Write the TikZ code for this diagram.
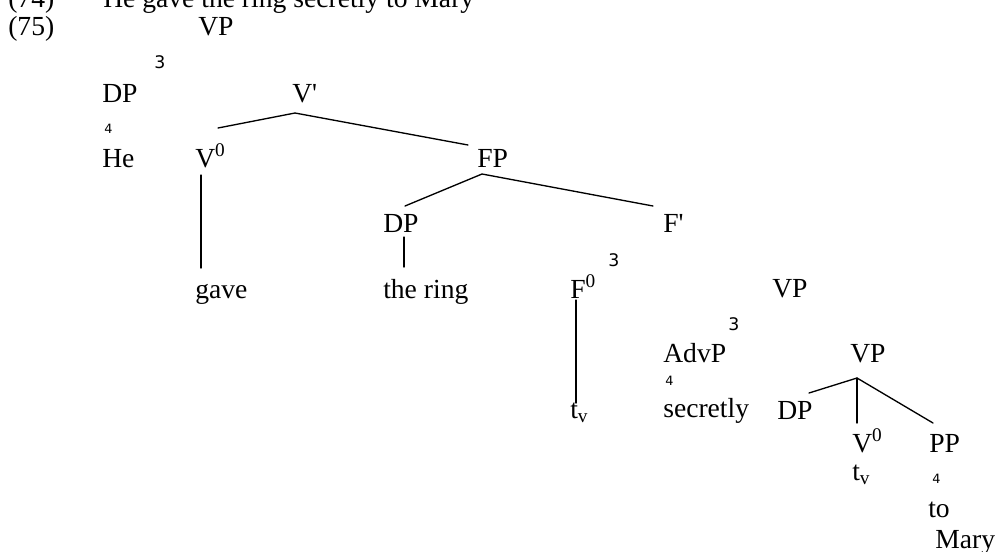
\documentclass[tikz,border=0pt]{standalone}
\usepackage{fontspec}
\setmainfont{Liberation Serif}
\newfontfamily\glyphfont{DejaVu Sans}
\begin{document}
\begin{tikzpicture}[x=0.75pt,y=-0.75pt,
  lbl/.style={anchor=base west,inner sep=0pt,font=\fontsize{20.7}{24}\selectfont},
  bigmark/.style={anchor=base west,inner sep=0pt,font=\glyphfont\fontsize{13}{15}\selectfont},
  smallmark/.style={anchor=base west,inner sep=0pt,font=\glyphfont\fontsize{9.6}{11}\selectfont},
  branch/.style={line width=1pt,line cap=round}]
\useasboundingbox (0,0) rectangle (998,551);
\fill[white] (0,0) rectangle (998,551);

% example lines
\node[lbl] (ex74) at (8,7) {(74)};
\node[lbl] (sent) at (103,7) {He gave the ring secretly to Mary};
\node[lbl] (ex75) at (8,35) {(75)};

% upper part of the tree
\node[lbl] (vp1) at (198,35) {VP};
\node[bigmark] (m3a) at (154,68) {3};
\node[lbl] (dp1) at (102,102) {DP};
\node[lbl] (vbar) at (292,102) {V\textquotesingle};
\node[smallmark] (m4a) at (104,133) {4};
\node[lbl] (he) at (102,167) {He};
\node[lbl] (v0a) at (195,167) {V\textsuperscript{0}};
\node[lbl] (fp) at (477,167) {FP};
\node[lbl] (dp2) at (383,232) {DP};
\node[lbl] (fbar) at (663,232) {F\textquotesingle};
\node[bigmark] (m3b) at (608,266) {3};
\node[lbl] (gave) at (195,298) {gave};
\node[lbl] (ring) at (383,298) {the ring};
\node[lbl] (f0) at (570,298) {F\textsuperscript{0}};

% lower part of the tree
\node[lbl] (vp2) at (772,297) {VP};
\node[bigmark] (m3c) at (728,330) {3};
\node[lbl] (advp) at (663,362) {AdvP};
\node[lbl] (vp3) at (850,362) {VP};
\node[smallmark] (m4b) at (665,385) {4};
\node[lbl] (secretly) at (663,417) {secretly};
\node[lbl] (tv1) at (570,418) {t\textsubscript{v}};
\node[lbl] (dp3) at (777,419) {DP};
\node[lbl] (v0b) at (852,452) {V\textsuperscript{0}};
\node[lbl] (pp) at (929,452) {PP};
\node[lbl] (tv2) at (852,480) {t\textsubscript{v}};
\node[smallmark] (m4c) at (932,483) {4};
\node[lbl] (to) at (928,517) {to};
\node[lbl] (mary) at (935,548) {Mary};

% branch points
\coordinate (vbarTop) at (295,113);
\coordinate (vbarL) at (218,128);
\coordinate (vbarR) at (468,145);
\coordinate (v0aBot) at (201,175);
\coordinate (gaveTop) at (201,268);
\coordinate (fpTop) at (482,174);
\coordinate (fpL) at (405,206);
\coordinate (fpR) at (653,206);
\coordinate (dp2Bot) at (404,237);
\coordinate (ringTop) at (404,267);
\coordinate (f0Bot) at (576,300);
\coordinate (tv1Top) at (576,403);
\coordinate (vp3Top) at (857,378);
\coordinate (vp3L) at (809,393);
\coordinate (vp3M) at (857,423);
\coordinate (vp3R) at (933,423);

\draw[branch] (vbarL) -- (vbarTop) -- (vbarR);
\draw[branch] (v0aBot) -- (gaveTop);
\draw[branch] (fpL) -- (fpTop) -- (fpR);
\draw[branch] (dp2Bot) -- (ringTop);
\draw[branch] (f0Bot) -- (tv1Top);
\draw[branch] (vp3L) -- (vp3Top) -- (vp3R);
\draw[branch] (vp3Top) -- (vp3M);
\end{tikzpicture}
\end{document}
